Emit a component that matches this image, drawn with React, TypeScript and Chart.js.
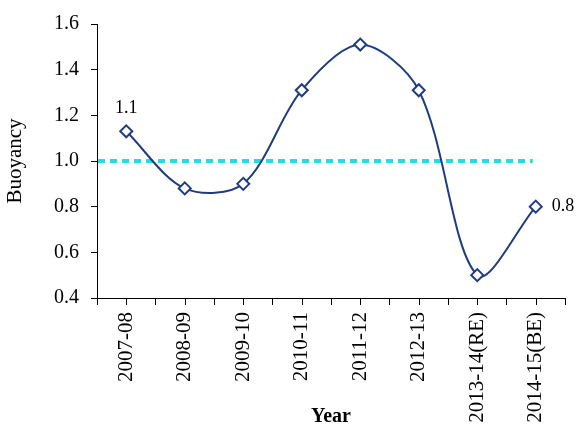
import React, { useEffect, useRef } from "react";
import { Chart, registerables } from "chart.js";

Chart.register(...registerables);

const categories = ["2007-08", "2008-09", "2009-10", "2010-11", "2011-12", "2012-13", "2013-14(RE)", "2014-15(BE)"];
const buoyancy = [1.13, 0.88, 0.9, 1.31, 1.51, 1.31, 0.5, 0.8];
const pointLabels = ["1.1", "", "", "", "", "", "", "0.8"];
const referenceValue = 1.0;
const yMin = 0.4;
const yMax = 1.6;
const yStep = 0.2;

const FONT = "'Liberation Serif', 'Times New Roman', serif";
const NAVY = "#203C80";
const CYAN = "#22DDE6";

const extrasPlugin = {
  id: "extras",
  beforeDatasetsDraw(chart: any) {
    const { ctx, chartArea, scales } = chart;
    const x = scales.x;
    const y = scales.y;
    const yy = y.getPixelForValue(referenceValue);
    ctx.save();
    ctx.strokeStyle = CYAN;
    ctx.lineWidth = 4;
    ctx.setLineDash([7, 5]);
    ctx.beginPath();
    ctx.moveTo(chartArea.left + 1, yy);
    ctx.lineTo(x.getPixelForValue(categories.length - 1) - 3, yy);
    ctx.stroke();
    ctx.restore();
  },
  afterDraw(chart: any) {
    const { ctx, chartArea, scales } = chart;
    const x = scales.x;
    ctx.save();
    ctx.strokeStyle = "#000";
    ctx.lineWidth = 1;
    ctx.beginPath();
    for (let i = 0; i < categories.length; i++) {
      const px = Math.round(x.getPixelForValue(i)) + 0.5;
      ctx.moveTo(px, chartArea.bottom);
      ctx.lineTo(px, chartArea.bottom + 7);
    }
    ctx.stroke();
    const meta = chart.getDatasetMeta(0);
    ctx.fillStyle = "#000";
    ctx.font = `18px ${FONT}`;
    ctx.textBaseline = "middle";
    meta.data.forEach((pt: any, i: number) => {
      const label = pointLabels[i];
      if (!label) return;
      if (i === categories.length - 1) {
        ctx.textAlign = "left";
        ctx.fillText(label, pt.x + 16, pt.y);
      } else {
        ctx.textAlign = "center";
        ctx.fillText(label, pt.x, pt.y - 23);
      }
    });
    ctx.restore();
  },
};

export default function App() {
  const ref = useRef<HTMLCanvasElement>(null);
  useEffect(() => {
    document.body.style.margin = "0";
    const chart = new Chart(ref.current!, {
      type: "line",
      data: {
        labels: categories,
        datasets: [
          {
            data: buoyancy,
            borderColor: NAVY,
            borderWidth: 2,
            tension: 0.32,
            pointStyle: "rectRot",
            pointRadius: 6,
            pointBorderWidth: 2,
            pointBackgroundColor: "#fff",
            pointBorderColor: NAVY,
            clip: false as any,
          },
        ],
      },
      options: {
        animation: false,
        responsive: false,
        layout: { padding: { top: 21, right: 14, left: 0, bottom: 0 } },
        plugins: { legend: { display: false }, tooltip: { enabled: false } },
        scales: {
          x: {
            offset: true,
            grid: { offset: true, drawOnChartArea: false, drawTicks: true, tickLength: 7, color: "#000" },
            border: { color: "#000", width: 1 },
            ticks: {
              minRotation: 90,
              maxRotation: 90,
              autoSkip: false,
              padding: 7,
              color: "#000",
              font: { family: FONT, size: 21 },
            },
            title: {
              display: true,
              text: "Year",
              color: "#000",
              font: { family: FONT, size: 20, weight: "bold" },
              padding: { top: 0, bottom: 1 },
            },
            afterFit: (s: any) => {
              s.height = 132;
            },
          },
          y: {
            min: yMin,
            max: yMax,
            grid: { drawOnChartArea: false, drawTicks: true, tickLength: 6, color: "#000" },
            border: { color: "#000", width: 1 },
            ticks: {
              stepSize: yStep,
              padding: 12,
              color: "#000",
              font: { family: FONT, size: 20 },
              callback: (v: any) => Number(v).toFixed(1),
            },
            title: {
              display: true,
              text: "Buoyancy",
              color: "#000",
              font: { family: FONT, size: 21 },
              padding: { top: 3, bottom: 0 },
            },
            afterFit: (s: any) => {
              s.width = 97;
            },
          },
        },
      },
      plugins: [extrasPlugin],
    });
    return () => chart.destroy();
  }, []);
  return (
    <div style={{ width: 579, height: 430 }}>
      <canvas ref={ref} width={579} height={430} />
    </div>
  );
}
